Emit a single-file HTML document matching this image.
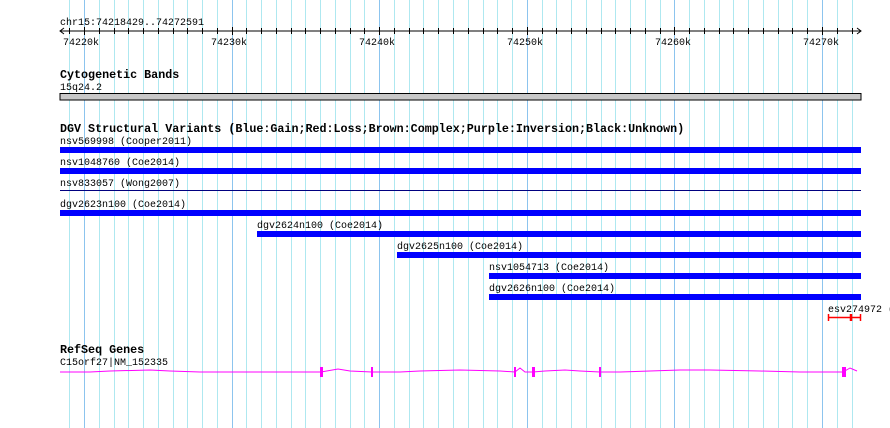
<!DOCTYPE html><html><head><style>body{margin:0;background:#fff}svg{display:block}text{font-family:"Liberation Mono",monospace;font-size:10px;fill:#000}.b{font-weight:bold;font-size:11.7px}</style></head><body>
<svg id="s" width="890" height="428" xmlns="http://www.w3.org/2000/svg">
<g id="grid"></g>
<text x="60" y="25">chr15:74218429..74272591</text>
<line x1="60" y1="31" x2="861" y2="31" stroke="#000"/>
<polyline points="64,28 60,31 64,34" fill="none" stroke="#000"/>
<polyline points="857,28 861,31 857,34" fill="none" stroke="#000"/>
<g id="ticks"></g>
<text x="63" y="45">74220k</text><text x="211" y="45">74230k</text><text x="359" y="45">74240k</text><text x="507" y="45">74250k</text><text x="655" y="45">74260k</text><text x="803" y="45">74270k</text>
<text class="b" x="60" y="78">Cytogenetic Bands</text>
<text x="60" y="90">15q24.2</text>
<rect x="60" y="93.5" width="801" height="6.5" fill="#c8c8c8" stroke="#000"/>
<text class="b" x="60" y="132">DGV Structural Variants (Blue:Gain;Red:Loss;Brown:Complex;Purple:Inversion;Black:Unknown)</text>
<text x="60" y="144">nsv569998 (Cooper2011)</text>
<rect x="60" y="147" width="801" height="6" fill="#0000ff"/>
<text x="60" y="165">nsv1048760 (Coe2014)</text>
<rect x="60" y="168" width="801" height="6" fill="#0000ff"/>
<text x="60" y="186">nsv833057 (Wong2007)</text>
<line x1="60" y1="190.5" x2="861" y2="190.5" stroke="#000080"/>
<text x="60" y="207">dgv2623n100 (Coe2014)</text>
<rect x="60" y="210" width="801" height="6" fill="#0000ff"/>
<text x="257" y="228">dgv2624n100 (Coe2014)</text>
<rect x="257" y="231" width="604" height="6" fill="#0000ff"/>
<text x="397" y="249">dgv2625n100 (Coe2014)</text>
<rect x="397" y="252" width="464" height="6" fill="#0000ff"/>
<text x="489" y="270">nsv1054713 (Coe2014)</text>
<rect x="489" y="273" width="372" height="6" fill="#0000ff"/>
<text x="489" y="291">dgv2626n100 (Coe2014)</text>
<rect x="489" y="294" width="372" height="6" fill="#0000ff"/>
<text x="828" y="312">esv274972 (</text>
<g stroke="#ff0000" stroke-width="1.5"><line x1="828" y1="317.5" x2="861" y2="317.5"/><line x1="828.5" y1="314" x2="828.5" y2="321"/><line x1="851" y1="314" x2="851" y2="321" stroke-width="2.5"/><line x1="860.5" y1="314" x2="860.5" y2="321"/></g>
<text class="b" x="60" y="353">RefSeq Genes</text>
<text x="60" y="365">C15orf27|NM_152335</text>
<polyline fill="none" stroke="#ff00ff" points="60,372 90,372 110,371 150,370 170,371 200,372 230,372 321,372 338,369 350,371 372,372 400,372 420,371 460,370 500,371 515,372 520,368 525,372 533,372 545,371 565,370 580,371 600,372 620,372 650,371 680,370 710,370 760,371 800,372 843,372 850,368 857,371"/>
<g fill="#ff00ff"><rect x="320" y="367" width="3" height="10"/><rect x="371" y="367" width="2" height="10"/><rect x="514" y="367" width="2" height="10"/><rect x="532" y="367" width="3" height="10"/><rect x="599" y="367" width="2" height="10"/><rect x="842" y="367" width="4" height="10"/></g>
</svg>
<script>
var g=document.getElementById('grid'),t=document.getElementById('ticks'),ns='http://www.w3.org/2000/svg';
for(var k=74219;k<=74272;k++){var x=84+(k-74220)*14.76;x=Math.round(x)+0.5;
var l=document.createElementNS(ns,'line');l.setAttribute('x1',x);l.setAttribute('x2',x);l.setAttribute('y1',0);l.setAttribute('y2',428);l.setAttribute('stroke',k%10==0?'#8cc4ee':'#aee8f0');g.appendChild(l);
var m=document.createElementNS(ns,'line');m.setAttribute('x1',x);m.setAttribute('x2',x);m.setAttribute('y1',k%10==0?27:28);m.setAttribute('y2',k%10==0?35:34);m.setAttribute('stroke','#000');t.appendChild(m);}
</script>
</body></html>
